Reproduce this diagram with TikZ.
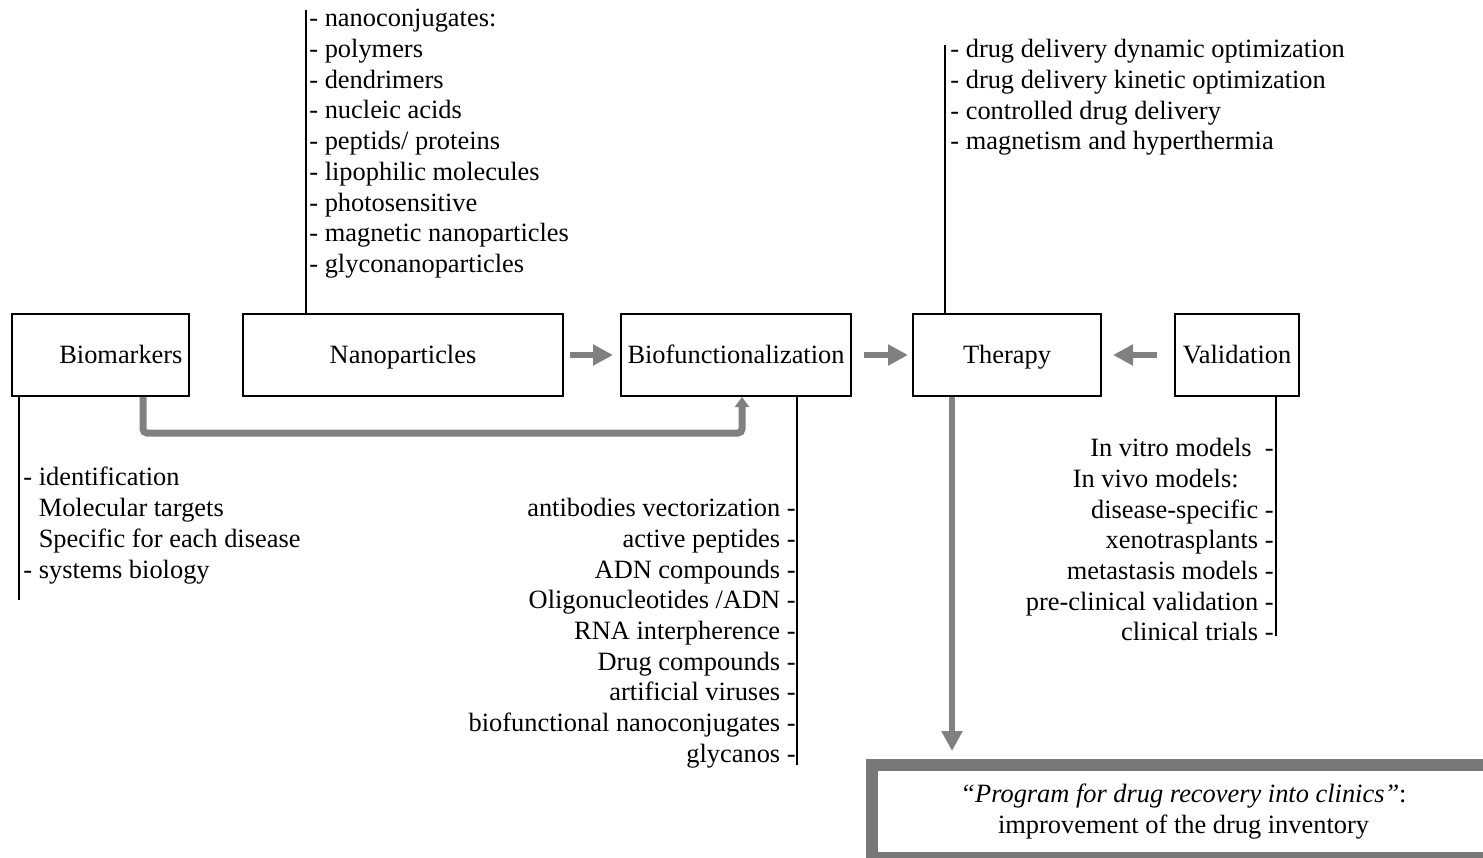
\documentclass[tikz,border=0pt]{standalone}
\usepackage{fontspec}
\setmainfont{Liberation Serif}
\usetikzlibrary{arrows.meta, positioning}
\definecolor{arrowgray}{RGB}{128,128,128}
\definecolor{framegray}{RGB}{120,120,120}
\newcommand{\listfont}{\fontsize{13.2}{15.35}\selectfont}

\tikzset{
  stage/.style={draw, line width=1pt, minimum height=41pt, inner sep=1pt, font=\listfont,
                text height=10pt, text depth=2pt},
  items/.style={inner sep=0pt, font=\listfont},
  brace/.style={line width=1pt},
  flow/.style={draw=arrowgray, line width=3pt, -{Triangle[length=10pt, width=10pt]}},
  feed/.style={draw=arrowgray, line width=3.5pt, -{Triangle[length=5pt, width=7pt]}},
}

\begin{document}
\begin{tikzpicture}[x=0.5pt, y=-0.5pt]
    \useasboundingbox (0,0) rectangle (1483,857);

    % main chain
    \node[stage, minimum width=88.5pt, text width=82pt, align=right] (bio) at (100.5,355) {Biomarkers};
    \node[stage, minimum width=160pt] (nano) at (403,355) {Nanoparticles};
    \node[stage, minimum width=115pt] (biof) at (736,355) {Biofunctionalization};
    \node[stage, minimum width=94pt] (ther) at (1007,355) {Therapy};
    \node[stage, minimum width=62pt] (valid) at (1237,355) {Validation};
    \node[draw=framegray, line width=6pt, minimum width=311.5pt, minimum height=46.5pt,
          align=center, font=\listfont] (prog) at (1183.5,811.5)
          {\textit{“Program for drug recovery into clinics”}:\\improvement of the drug inventory};

    % lists
    \node[items, anchor=north west, align=left] (nanolist) at (309,9)
        {- nanoconjugates:\\- polymers\\- dendrimers\\- nucleic acids\\- peptids/ proteins\\
         - lipophilic molecules\\- photosensitive\\- magnetic nanoparticles\\- glyconanoparticles};
    \node[items, anchor=north west, align=left] (therlist) at (950,39)
        {- drug delivery dynamic optimization\\- drug delivery kinetic optimization\\
         - controlled drug delivery\\- magnetism and hyperthermia};
    \node[items, anchor=north west, align=left] (biolist) at (23,467)
        {- identification\\\phantom{- }Molecular targets\\\phantom{- }Specific for each disease\\- systems biology};
    \node[items, anchor=north east, align=right] (bioflist) at (796,498)
        {antibodies vectorization -\\active peptides -\\ADN compounds -\\Oligonucleotides /ADN -\\
         RNA interpherence -\\Drug compounds -\\artificial viruses -\\biofunctional nanoconjugates -\\glycanos -};
    \node[items, anchor=north east, align=right] (validlist) at (1274,438)
        {In vitro models~~-\\In vivo models:\rule{17.5pt}{0pt}\\disease-specific -\\xenotrasplants -\\
         metastasis models -\\pre-clinical validation -\\clinical trials -};

    % list brackets
    \coordinate (nanotop) at (306,10);
    \coordinate (thertop) at (945,45);
    \coordinate (bioend) at (19,600);
    \coordinate (biofend) at (797,765);
    \coordinate (validend) at (1276,636);
    \draw[brace] (nanotop) -- (nanotop |- nano.north);
    \draw[brace] (thertop) -- (thertop |- ther.north);
    \draw[brace] (bio.south -| bioend) -- (bioend);
    \draw[brace] (biof.south -| biofend) -- (biofend);
    \draw[brace] (valid.south -| validend) -- (validend);

    % gray arrows
    \draw[flow, shorten <=3pt, shorten >=3.5pt] (nano) -- (biof);
    \draw[flow, shorten <=6pt, shorten >=2pt] (biof) -- (ther);
    \draw[flow, shorten <=8.5pt, shorten >=5.5pt] (valid) -- (ther);
    \coordinate (feedA) at (143,433);
    \coordinate (feedB) at (742,433);
    \draw[feed, rounded corners=2pt] (bio.south -| feedA) -- (feedA) -- (feedB) -- (feedB |- biof.south);
    \coordinate (drop) at (952,396);
    \draw[flow, shorten >=4pt] (ther.south -| drop) -- (prog.north -| drop);
\end{tikzpicture}
\end{document}
